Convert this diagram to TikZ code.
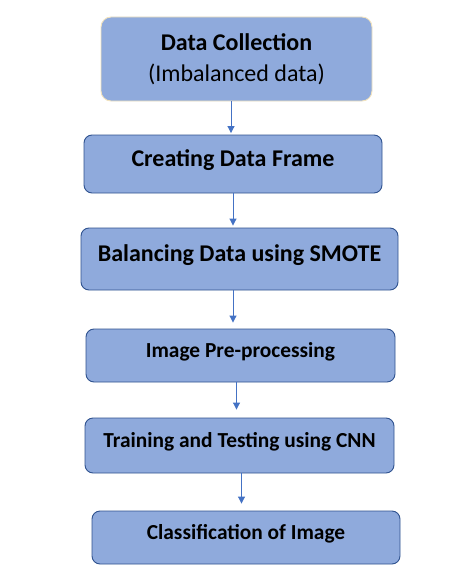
\documentclass[tikz,border=0pt]{standalone}
\usepackage{fontspec}
\setmainfont{Carlito}
\usetikzlibrary{arrows.meta}

\definecolor{boxfill}{HTML}{8FAADC}
\definecolor{boxline}{HTML}{2F528F}
\definecolor{firstline}{HTML}{F2E3BE}
\definecolor{flowline}{HTML}{4472C4}

\tikzset{
  stage/.style={draw=boxline, line width=0.9pt, fill=boxfill, rounded corners=8pt, inner sep=0pt},
  oneline/.style={text height=16pt, text depth=#1, font=\bfseries\fontsize{24}{29}\selectfont},
  smallline/.style={text height=16pt, text depth=#1, font=\bfseries\fontsize{21.4}{25}\selectfont},
  flow/.style={draw=flowline, line width=1pt, -{Triangle[width=7pt,length=7pt]}}
}

\begin{document}
\begin{tikzpicture}[x=1pt,y=-1pt]
\useasboundingbox (0,0) rectangle (454,586);

\node[stage, draw=firstline, rounded corners=10pt, minimum width=271pt, minimum height=84pt, align=center, font=\fontsize{24}{29}\selectfont] (dc) at (236.5,59) {\textbf{Data Collection}\\[2.5pt](Imbalanced data)};
\node[stage, oneline=10.6pt, minimum width=298pt, minimum height=58pt] (cdf) at (233,164) {Creating Data Frame};
\node[stage, oneline=12pt, minimum width=317pt, minimum height=62pt] (bal) at (239.5,259) {Balancing Data using SMOTE};
\node[stage, smallline=11.6pt, minimum width=309pt, minimum height=53pt] (pre) at (240.5,355.5) {Image Pre-processing};
\node[stage, smallline=13pt, minimum width=309pt, minimum height=55pt] (cnn) at (239.5,445.5) {Training and Testing using CNN};
\node[stage, smallline=13pt, minimum width=308pt, minimum height=53pt] (cls) at (246,537.5) {Classification of Image};

\draw[flow, shorten >=1.5pt] ([xshift=-5.5pt]dc.south) -- ([xshift=-5.5pt]dc.south |- cdf.north);
\draw[flow, shorten >=2pt] (cdf.south) -- (cdf.south |- bal.north);
\draw[flow, shorten >=6pt] ([xshift=-6.5pt]bal.south) -- ([xshift=-6.5pt]bal.south |- pre.north);
\draw[flow, shorten >=8pt] ([xshift=-4pt]pre.south) -- ([xshift=-4pt]pre.south |- cnn.north);
\draw[flow, shorten >=7pt] ([xshift=2pt]cnn.south) -- ([xshift=2pt]cnn.south |- cls.north);

\end{tikzpicture}
\end{document}
